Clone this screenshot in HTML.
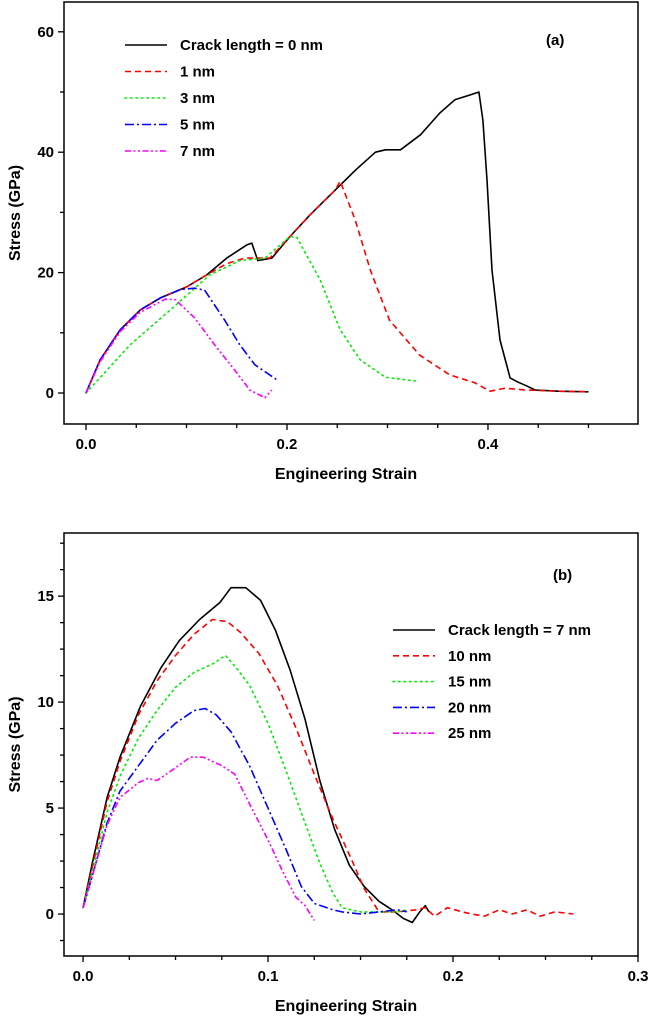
<!DOCTYPE html>
<html><head><meta charset="utf-8">
<style>
html,body{margin:0;padding:0;background:#fff;}
svg{display:block;font-family:"Liberation Sans",Arial,sans-serif;}
text{font-weight:bold;fill:#000;}
</style></head>
<body>
<svg id="chart" width="649" height="1024" viewBox="0 0 649 1024" xmlns="http://www.w3.org/2000/svg"></svg>
<script>
// ---------- Panel (a) data ----------
const aLabels = ["Crack length = 0 nm","1 nm","3 nm","5 nm","7 nm"];
const aX0 = [0,0.014,0.034,0.054,0.074,0.1,0.12,0.14,0.16,0.165,0.171,0.185,0.203,0.223,0.248,0.268,0.288,0.298,0.313,0.333,0.352,0.367,0.382,0.391,0.395,0.399,0.404,0.412,0.422,0.43,0.437,0.447,0.47,0.5];
const aY0 = [0,5.5,10.5,13.8,15.8,17.6,19.6,22.4,24.6,24.9,22,22.4,26,29.6,33.7,37,40,40.4,40.4,42.9,46.5,48.7,49.5,50,45.3,35.4,20.4,8.8,2.5,1.8,1.3,0.5,0.3,0.2];
const aX1 = [0,0.014,0.034,0.054,0.074,0.1,0.12,0.14,0.158,0.183,0.203,0.223,0.248,0.253,0.268,0.283,0.302,0.332,0.362,0.387,0.402,0.417,0.437,0.47,0.5];
const aY1 = [0,5.5,10.5,13.8,15.8,17.6,19.6,21.5,22.4,22.4,26,29.6,33.7,35.2,28.7,20.4,12.1,6.3,3,1.7,0.3,0.8,0.5,0.3,0.2];
const aX2 = [0,0.044,0.084,0.123,0.153,0.178,0.203,0.21,0.233,0.253,0.273,0.298,0.328];
const aY2 = [0,8,13.8,19.6,22,22.4,26,25.8,18.8,10.5,5.5,2.6,2];
const aX3 = [0,0.014,0.034,0.054,0.074,0.094,0.108,0.118,0.138,0.153,0.168,0.19];
const aY3 = [0,5.5,10.5,13.8,15.8,17.2,17.4,17.1,12.1,8,4.7,2.2];
const aX4 = [0,0.014,0.034,0.054,0.079,0.089,0.108,0.128,0.148,0.163,0.178,0.185];
const aY4 = [0,5.2,10.2,13.4,15.6,15.5,12.5,8,3.8,0.5,-0.8,0.5];
const aXTicks = ["0.0","0.2","0.4"];
const aYTicks = ["0","20","40","60"];

// ---------- Panel (b) data ----------
const bLabels = ["Crack length = 7 nm","10 nm","15 nm","20 nm","25 nm"];
const bX0 = [0,0.005,0.013,0.02,0.031,0.042,0.052,0.063,0.074,0.08,0.088,0.096,0.104,0.112,0.12,0.128,0.136,0.144,0.152,0.16,0.167,0.173,0.178,0.182,0.185,0.187];
const bY0 = [0.3,2.4,5.5,7.4,9.8,11.6,12.9,13.9,14.7,15.4,15.4,14.8,13.4,11.5,9.2,6.3,4,2.3,1.3,0.6,0.2,-0.2,-0.4,0.1,0.4,0.1];
const bX1 = [0,0.005,0.013,0.02,0.03,0.04,0.05,0.06,0.07,0.078,0.085,0.095,0.105,0.115,0.125,0.135,0.145,0.152,0.16,0.17,0.18,0.185,0.19,0.197,0.205,0.21,0.217,0.225,0.232,0.24,0.247,0.255,0.265];
const bY1 = [0.3,2.2,5.3,7.2,9.4,11,12.2,13.2,13.9,13.8,13.3,12.3,10.8,8.8,6.6,4.5,2.6,1.2,0.1,0.1,0.2,0.3,-0.1,0.3,0.1,0,-0.1,0.2,0,0.2,-0.1,0.1,0];
const bX2 = [0,0.005,0.013,0.02,0.03,0.04,0.05,0.06,0.07,0.077,0.083,0.09,0.1,0.11,0.12,0.128,0.135,0.14,0.15,0.16,0.17,0.175];
const bY2 = [0.3,2,4.8,6.5,8.3,9.6,10.7,11.4,11.8,12.2,11.6,10.8,9,6.7,4.3,2.4,1,0.3,0.1,0.1,0.1,0.2];
const bX3 = [0,0.005,0.013,0.02,0.03,0.04,0.05,0.06,0.066,0.072,0.08,0.09,0.1,0.11,0.118,0.125,0.135,0.14,0.15,0.16,0.17,0.175];
const bY3 = [0.3,1.8,4.3,5.8,7,8.2,9,9.6,9.7,9.4,8.6,7,5,3,1.3,0.5,0.2,0.1,0,0.1,0.2,0.1];
const bX4 = [0,0.005,0.013,0.02,0.03,0.035,0.04,0.05,0.058,0.065,0.075,0.082,0.09,0.1,0.108,0.115,0.12,0.125];
const bY4 = [0.3,1.8,4.2,5.5,6.2,6.4,6.3,6.9,7.4,7.4,7,6.6,5.2,3.5,2,0.8,0.4,-0.3];
const bXTicks = ["0.0","0.1","0.2","0.3"];
const bYTicks = ["0","5","10","15"];

const NS = "http://www.w3.org/2000/svg";
const svg = document.getElementById("chart");
const colors = ["#000000","#ff0000","#00ee00","#0000ff","#ff00ff"];
const dashes = ["", "6,4", "1.5,4", "9,3,2,3", "6,2.5,2,2.5,2,2.5"];
const names = ["series-0","series-1","series-2","series-3","series-4"];

function mk(tag, attrs, parent){
  const e = document.createElementNS(NS, tag);
  for (const k in attrs) e.setAttribute(k, attrs[k]);
  (parent||svg).appendChild(e);
  return e;
}

function panel(cfg){
  const g = mk("g", {});
  
  
  const sx = v => cfg.left + (v - cfg.xmin) / (cfg.xmax - cfg.xmin) * (cfg.right - cfg.left);
  const sy = v => cfg.bottom - (v - cfg.ymin) / (cfg.ymax - cfg.ymin) * (cfg.bottom - cfg.top);
  const frame = mk("rect", {x:cfg.left, y:cfg.top, width:cfg.right-cfg.left, height:cfg.bottom-cfg.top, fill:"none", stroke:"#000", "stroke-width":1.5}, g);
  
  
  for (let v = cfg.xTickStart; v <= cfg.xmax + 1e-9; v += cfg.xMinor){
    const major = Math.abs(v/cfg.xMajor - Math.round(v/cfg.xMajor)) < 1e-6;
    const x = sx(v);
    const t = mk("line", {x1:x, x2:x, y1:cfg.bottom, y2:cfg.bottom + (major?6:4), stroke:"#000", "stroke-width":1.3}, g);
    
    
  }
  cfg.xTicks.forEach(lbl => {
    const t = mk("text", {x:sx(parseFloat(lbl)), y:cfg.bottom+25, "font-size":15, "text-anchor":"middle"}, g);
    t.textContent = lbl;
    
    
  });
  for (let v = cfg.yTickStart; v <= cfg.ymax + 1e-9; v += cfg.yMinor){
    const major = Math.abs(v/cfg.yMajor - Math.round(v/cfg.yMajor)) < 1e-6;
    const y = sy(v);
    const t = mk("line", {x1:cfg.left, x2:cfg.left-(major?6:4), y1:y, y2:y, stroke:"#000", "stroke-width":1.3}, g);
    
    
  }
  cfg.yTicks.forEach(lbl => {
    const t = mk("text", {x:cfg.left-10, y:sy(parseFloat(lbl))+5, "font-size":15, "text-anchor":"end"}, g);
    t.textContent = lbl;
    
    
  });
  const xt = mk("text", {x:(cfg.left+cfg.right)/2 - 5, y:cfg.bottom+55, "font-size":16, "text-anchor":"middle"}, g);
  xt.textContent = "Engineering Strain";
  
  
  const cy = (cfg.top+cfg.bottom)/2;
  const yt = mk("text", {x:20, y:cy, "font-size":16, "text-anchor":"middle", transform:`rotate(-90 20 ${cy})`}, g);
  yt.textContent = "Stress (GPa)";
  
  
  const pl = mk("text", {x:cfg.plx, y:cfg.ply, "font-size":15}, g);
  pl.textContent = cfg.panelLabel;
  
  
  cfg.series.forEach((s, i) => {
    const d = s[0].map((xv, j) => (j?"L":"M") + sx(xv).toFixed(1) + "," + sy(s[1][j]).toFixed(1)).join(" ");
    const p = mk("path", {d, fill:"none", stroke:colors[i], "stroke-width":1.6, "stroke-dasharray":dashes[i], "stroke-linecap": i==2?"round":"butt", "stroke-linejoin":"round"}, g);
    
    
  });
  cfg.labels.forEach((lbl, i) => {
    const y = cfg.legY + i*cfg.legDy;
    const ln = mk("line", {x1:cfg.legX, x2:cfg.legX+42, y1:y, y2:y, stroke:colors[i], "stroke-width":1.6, "stroke-dasharray":dashes[i], "stroke-linecap": i==2?"round":"butt"}, g);
    
    
    const t = mk("text", {x:cfg.legX+55, y:y+5, "font-size":15}, g);
    t.textContent = lbl;
    
    
  });
}

panel({id:"panel-a", left:64, right:638, top:2, bottom:424,
  xmin:-0.0219, xmax:0.5493, ymin:-5.15, ymax:64.95,
  xTickStart:0, xMinor:0.05, xMajor:0.2, yTickStart:0, yMinor:10, yMajor:20,
  xTicks:aXTicks, yTicks:aYTicks, panelLabel:"(a)", plx:546, ply:45,
  series:[[aX0,aY0],[aX1,aY1],[aX2,aY2],[aX3,aY3],[aX4,aY4]],
  labels:aLabels, legX:125, legY:45, legDy:26.5});

panel({id:"panel-b", left:64, right:638, top:533, bottom:956,
  xmin:-0.0103, xmax:0.3, ymin:-1.98, ymax:17.98,
  xTickStart:0, xMinor:0.025, xMajor:0.1, yTickStart:-1.25, yMinor:1.25, yMajor:5,
  xTicks:bXTicks, yTicks:bYTicks, panelLabel:"(b)", plx:553, ply:580,
  series:[[bX0,bY0],[bX1,bY1],[bX2,bY2],[bX3,bY3],[bX4,bY4]],
  labels:bLabels, legX:393, legY:630, legDy:25.8});
</script>
</body></html>
